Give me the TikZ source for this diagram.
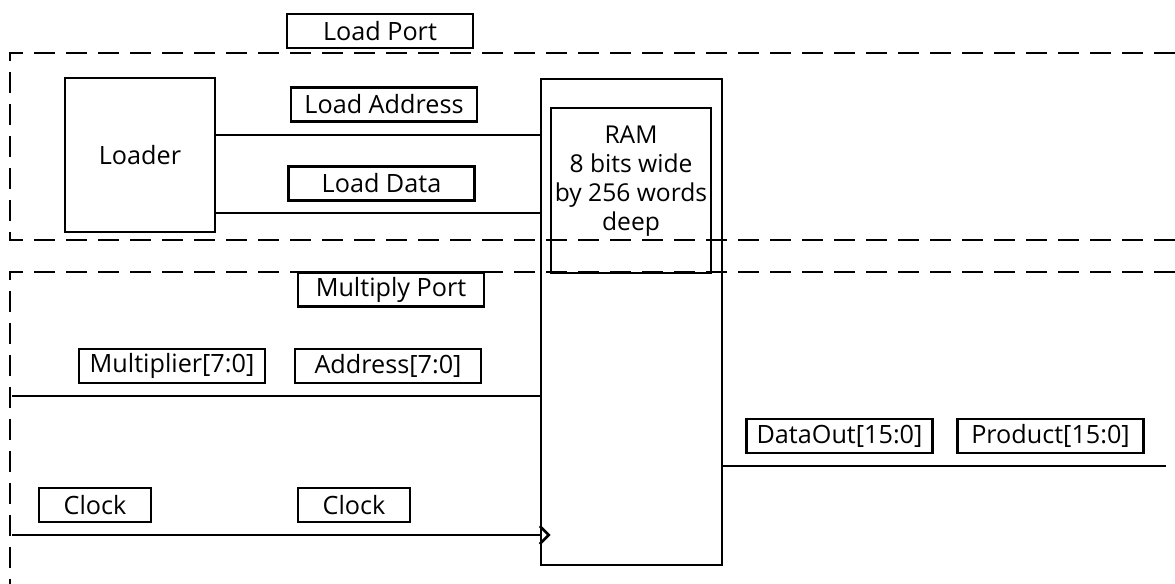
\documentclass[tikz,border=0pt]{standalone}
\usepackage{fontspec}
\setmainfont{Open Sans}
\begin{document}
\begin{tikzpicture}[x=0.5pt,y=-0.5pt,
  every node/.style={font=\fontsize{12.6}{14.5}\selectfont},
  wire/.style={line width=1.25pt},
  region/.style={line width=1.25pt,dash pattern=on 10.5pt off 5.5pt},
  lbl/.style={draw,line width=1.2pt,minimum width=93pt,minimum height=17pt,inner sep=0pt},
  clk/.style={lbl,minimum width=56pt},
  blockbox/.style={draw,line width=1.25pt,inner sep=0pt}]
\useasboundingbox (0,0) rectangle (1175,584);
% port regions
\draw[region] (1175,53) -- (10,53) -- (10,240) -- (1175,240);
\draw[region] (1175,272) -- (10,272) -- (10,584);
% blocks
\node[blockbox,minimum width=75pt,minimum height=77pt] (loader) at (140,155) {Loader};
\node[blockbox,minimum width=90.5pt,minimum height=243pt] (ramouter) at (631.5,322) {};
\node[blockbox,minimum width=80pt,minimum height=82.5pt] (raminner) at (631,190.5) {};
\node[align=center,inner sep=0pt,font=\fontsize{12.3}{14.5}\selectfont] (ramtext) at (631,181) {RAM\\8 bits wide\\by 256 words\\deep};
% labels
\node[lbl] (loadport) at (380,31) {Load Port};
\node[lbl] (loadaddr) at (384,104.5) {Load Address};
\node[lbl] (loaddata) at (381.5,183.5) {Load Data};
\node[lbl] (mulport) at (391,289.5) {Multiply Port};
\node[lbl] (multiplier) at (172,366) {Multiplier[7:0]};
\node[lbl] (address) at (388,366) {Address[7:0]};
\node[clk] (clockA) at (95,505) {Clock};
\node[clk] (clockB) at (354,505) {Clock};
\node[lbl] (dataout) at (839.5,436) {DataOut[15:0]};
\node[lbl] (product) at (1050.5,436) {Product[15:0]};
% connector end points
\coordinate (ya) at (0,135);
\coordinate (yd) at (0,213);
\coordinate (mulin) at (12,396);
\coordinate (clkin) at (12,535);
\coordinate (outend) at (1166,466);
% connectors
\draw[wire] (loader.east |- ya) -- (ramouter.west |- ya);
\draw[wire] (loader.east |- yd) -- (ramouter.west |- yd);
\draw[wire] (mulin) -- (ramouter.west |- mulin);
\draw[wire] (clkin) -- (ramouter.west |- clkin);
\draw[wire] (ramouter.east |- outend) -- (outend);
% clock marker
\draw[wire,line join=miter] ([yshift=4.5pt]ramouter.west |- clkin) -- ++(9,9) -- ++(-9,9);
\end{tikzpicture}
\end{document}
